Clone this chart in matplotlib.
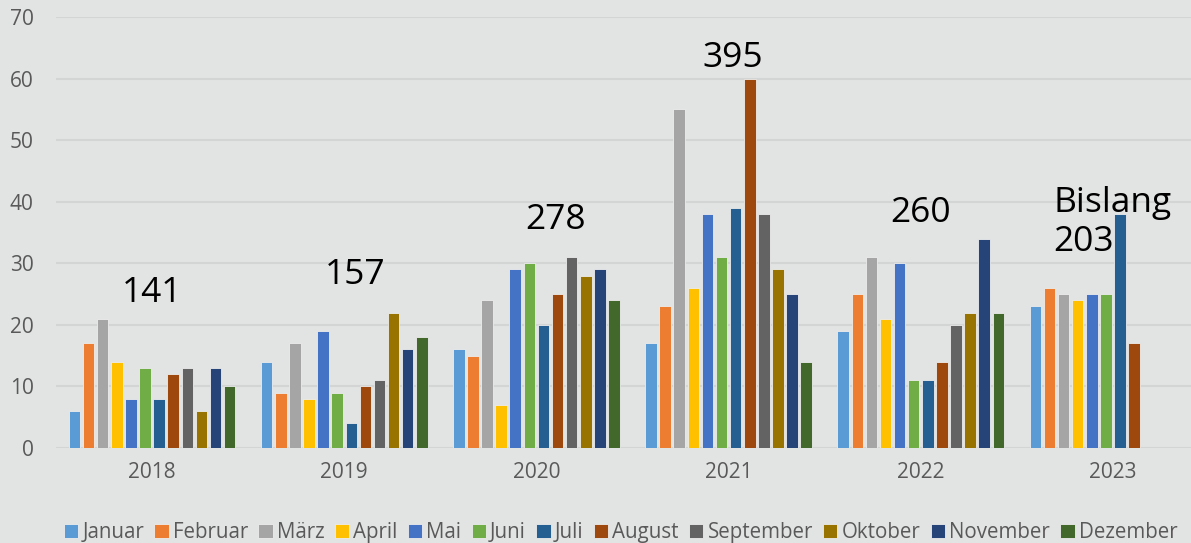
import matplotlib.pyplot as plt
import numpy as np

plt.rcParams['font.family'] = ['Open Sans', 'DejaVu Sans']

jahre = ['2018', '2019', '2020', '2021', '2022', '2023']
monate = ['Januar', 'Februar', 'März', 'April', 'Mai', 'Juni', 'Juli',
          'August', 'September', 'Oktober', 'November', 'Dezember']
farben = ['#5B9BD5', '#ED7D31', '#A5A5A5', '#FFC000', '#4472C4', '#70AD47',
          '#255E91', '#9E480E', '#636363', '#997300', '#264478', '#43682B']

# Werte je Jahr (Monate Januar..Dezember), 2023 nur bis August
werte = {
    '2018': [6, 17, 21, 14, 8, 13, 8, 12, 13, 6, 13, 10],
    '2019': [14, 9, 17, 8, 19, 9, 4, 10, 11, 22, 16, 18],
    '2020': [16, 15, 24, 7, 29, 30, 20, 25, 31, 28, 29, 24],
    '2021': [17, 23, 55, 26, 38, 31, 39, 60, 38, 29, 25, 14],
    '2022': [19, 25, 31, 21, 30, 11, 11, 14, 20, 22, 34, 22],
    '2023': [23, 26, 25, 24, 25, 25, 38, 17, np.nan, np.nan, np.nan, np.nan],
}
summen = ['141', '157', '278', '395', '260', 'Bislang\n203']

bg = '#E2E4E3'
fig = plt.figure(figsize=(11.91, 5.43), dpi=100, facecolor=bg)
ax = fig.add_axes([56 / 1191, 95 / 543, 1153 / 1191, 431 / 543])
ax.set_facecolor(bg)

x = np.arange(len(jahre))
schritt = 0.0734
breite = 0.06
for i, monat in enumerate(monate):
    y = [werte[j][i] for j in jahre]
    ax.bar(x + (i - 5.5) * schritt, y, breite, color=farben[i], label=monat,
           edgecolor='#EDEDED', linewidth=0.6, zorder=3)

# Jahressummen
pos = [(0, 25.1, 'center'), (1.055, 28.1, 'center'), (2.1, 37.1, 'center'),
       (3.02, 63.4, 'center'), (4.0, 38.2, 'center'), (4.69, 36.6, 'left')]
for (px, py, ha), s in zip(pos, summen):
    ax.text(px, py, s, fontsize=25.5, ha=ha, va='center', color='black',
            linespacing=1.2, zorder=4)

ax.set_xlim(-0.5, 5.5)
ax.set_ylim(0, 70)
ax.set_yticks(range(0, 71, 10))
ax.set_xticks(x)
ax.set_xticklabels(jahre)
ax.yaxis.grid(True, color='#D3D5D4', linewidth=1.5, zorder=0)
ax.set_axisbelow(True)
for sp in ax.spines.values():
    sp.set_visible(False)
ax.tick_params(axis='both', length=0, labelsize=15, colors='#595959')
ax.tick_params(axis='x', pad=10)
ax.tick_params(axis='y', pad=16)

fig.legend(loc='lower center', bbox_to_anchor=(0.521, -0.016), ncol=12,
           frameon=False, fontsize=14.8, labelcolor='#595959',
           handlelength=0.7, handleheight=0.7, handletextpad=0.2,
           columnspacing=0.5, borderaxespad=0)

fig.savefig('out.png', dpi=100, facecolor=bg)
